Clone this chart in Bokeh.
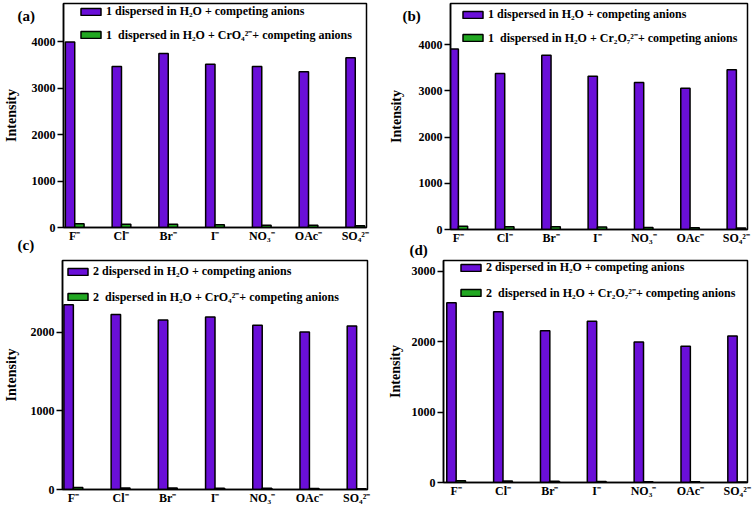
from bokeh.plotting import figure
from bokeh.models import (Range1d, FixedTicker, SingleIntervalTicker, Label,
                          ColumnDataSource, GridBox)
from bokeh.layouts import column, row
from bokeh.embed import file_html
from bokeh.resources import INLINE

# ---- data ----
anions = ["F⁻", "Cl⁻", "Br⁻", "I⁻", "NO₃⁻", "OAc⁻", "SO₄²⁻"]

a_plain = [4000, 3470, 3750, 3520, 3470, 3360, 3660]
a_quench = [80, 70, 70, 60, 50, 50, 40]
b_plain = [3910, 3380, 3770, 3320, 3180, 3060, 3460]
b_quench = [70, 60, 60, 55, 45, 40, 30]
c_plain = [2350, 2225, 2155, 2195, 2090, 2005, 2080]
c_quench = [25, 20, 20, 15, 15, 12, 10]
d_plain = [2550, 2425, 2155, 2290, 1995, 1935, 2080]
d_quench = [25, 20, 18, 15, 12, 10, 8]

a_labels = ["1 dispersed in H₂O + competing anions",
            "1  dispersed in H₂O + CrO₄²⁻+ competing anions"]
b_labels = ["1 dispersed in H₂O + competing anions",
            "1  dispersed in H₂O + Cr₂O₇²⁻+ competing anions"]
c_labels = ["2 dispersed in H₂O + competing anions",
            "2  dispersed in H₂O + CrO₄²⁻+ competing anions"]
d_labels = ["2 dispersed in H₂O + competing anions",
            "2  dispersed in H₂O + Cr₂O₇²⁻+ competing anions"]

panel_tags = ["(a)", "(b)", "(c)", "(d)"]

PURPLE = "#6a0fd8"
GREEN = "#22a822"
FONT = "Liberation Serif"
W, H = 754, 514


def panel(plain, quench, labels, width, height, borders, xr, ymax,
          leg_loc, leg_spacing, lab_std):
    left, right, top, bottom = borders
    p = figure(width=width, height=height, output_backend="svg",
               toolbar_location=None, x_range=Range1d(*xr),
               y_range=Range1d(0, ymax),
               min_border_left=left, min_border_right=right,
               min_border_top=top, min_border_bottom=bottom)
    pos = list(range(1, len(anions) + 1))
    src = ColumnDataSource(dict(
        xp=[i - 0.1 for i in pos], xq=[i + 0.1 for i in pos],
        plain=plain, quench=quench))
    p.vbar(x="xp", top="plain", bottom=0, width=0.2, source=src,
           fill_color=PURPLE, line_color="black", line_width=1.5,
           legend_label=labels[0])
    p.vbar(x="xq", top="quench", bottom=0, width=0.2, source=src,
           fill_color=GREEN, line_color="black", line_width=1.5,
           legend_label=labels[1])

    p.xgrid.visible = False
    p.ygrid.visible = False
    p.outline_line_color = "black"
    p.outline_line_width = 1.5
    p.background_fill_color = "white"
    p.border_fill_color = "white"

    xa = p.xaxis[0]
    xa.axis_label = None
    xa.ticker = FixedTicker(ticks=pos)
    xa.major_label_overrides = {i: a for i, a in zip(pos, anions)}
    xa.major_tick_out = 0
    xa.major_tick_in = 0
    xa.minor_tick_out = 0
    xa.minor_tick_in = 0
    xa.major_label_standoff = 1
    xa.axis_line_width = 1.5
    xa.major_label_text_font = FONT
    xa.major_label_text_font_style = "bold"
    xa.major_label_text_font_size = "12px"
    xa.major_label_text_color = "black"

    ya = p.yaxis[0]
    ya.ticker = SingleIntervalTicker(interval=1000, num_minor_ticks=0)
    ya.major_tick_out = 6
    ya.major_tick_in = 0
    ya.major_tick_line_width = 1.5
    ya.minor_tick_out = 0
    ya.minor_tick_in = 0
    ya.major_label_standoff = 2
    ya.axis_line_width = 1.5
    ya.major_label_text_font = FONT
    ya.major_label_text_font_style = "bold"
    ya.major_label_text_font_size = "12px"
    ya.major_label_text_color = "black"
    ya.axis_label = "Intensity"
    ya.axis_label_text_font = FONT
    ya.axis_label_text_font_style = "bold"
    ya.axis_label_text_font_size = "14px"
    ya.axis_label_text_color = "black"
    ya.axis_label_standoff = lab_std

    lg = p.legend[0]
    lg.location = leg_loc
    lg.margin = 0
    lg.padding = 0
    lg.spacing = leg_spacing
    lg.glyph_width = 25
    lg.glyph_height = 9
    lg.label_height = 14
    lg.label_standoff = 3
    lg.label_text_font = FONT
    lg.label_text_font_style = "bold"
    lg.label_text_font_size = "12px"
    lg.label_text_color = "black"
    lg.background_fill_alpha = 0
    lg.border_line_alpha = 0
    return p


pa = panel(a_plain, a_quench, a_labels, 385, 245, (58, 19, 1, 16),
           (0.76, 7.24), 4830, (15, 184), 7, 10)
pb = panel(b_plain, b_quench, b_labels, 369, 247, (60, 7, 3, 16),
           (0.83, 7.24), 4893, (10, 183), 7, 12)
pc = panel(c_plain, c_quench, c_labels, 384, 260, (58, 17, 13, 16),
           (0.77, 7.23), 2913, (3, 184), 9, 9)
pd = panel(d_plain, d_quench, d_labels, 370, 253, (54, 7, 7, 16),
           (0.73, 7.22), 3151, (15, 181), 9, 6)

# transparent overlay carrying the panel letters (pixel-like coordinates)
ov = figure(width=W, height=H, output_backend="svg", toolbar_location=None,
            x_range=Range1d(0, W), y_range=Range1d(H, 0),
            x_axis_type=None, y_axis_type=None, min_border=0,
            background_fill_color=None, border_fill_color=None,
            outline_line_color=None)
ov.xgrid.visible = False
ov.ygrid.visible = False
for tag, (tx, ty) in zip(panel_tags, [(17, 15), (402, 15), (17, 244), (409, 249)]):
    ov.add_layout(Label(x=tx, y=ty, text=tag, text_font=FONT,
                        text_font_style="bold", text_font_size="15px",
                        text_align="left", text_baseline="middle",
                        text_color="black"))

grid = column(row(pa, pb), row(pc, pd))
layout = GridBox(children=[(grid, 0, 0), (ov, 0, 0)])
open("out.html", "w").write(file_html(layout, INLINE))
